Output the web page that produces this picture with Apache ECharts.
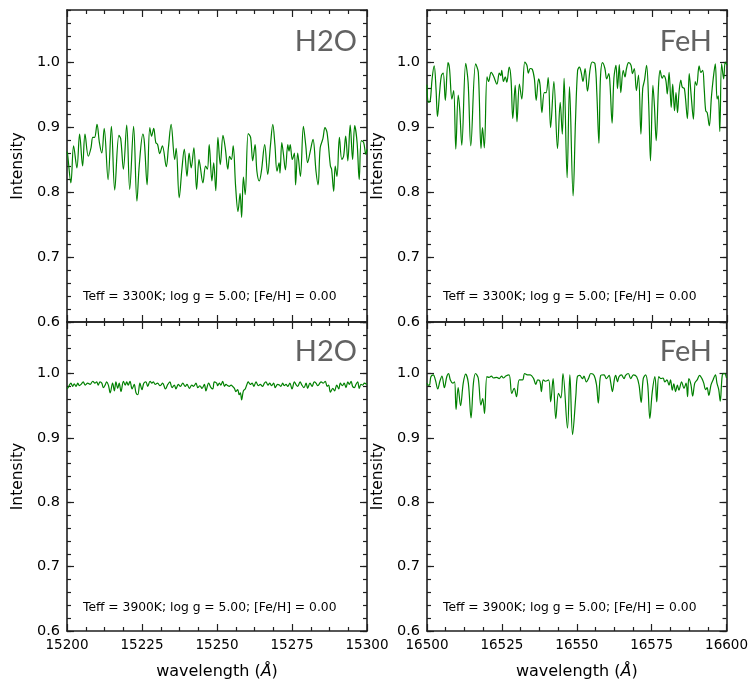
<!DOCTYPE html>
<html><head><meta charset="utf-8">
<script src="https://cdn.jsdelivr.net/npm/echarts@6/dist/echarts.min.js"></script>
<style>html,body{margin:0;padding:0;background:#fff}#c{width:751px;height:681px}</style>
</head><body><div id="c"></div><script>
// ---------------- data ----------------
const h2oRange = [15200, 15300];
const fehRange = [16500, 16600];
const yRange = [0.6, 1.08];
const panelTitles = ['H2O', 'FeH', 'H2O', 'FeH'];
const paramLabels = [
  'Teff = 3300K; log g = 5.00; [Fe/H] = 0.00',
  'Teff = 3300K; log g = 5.00; [Fe/H] = 0.00',
  'Teff = 3900K; log g = 5.00; [Fe/H] = 0.00',
  'Teff = 3900K; log g = 5.00; [Fe/H] = 0.00'
];
const xAxisName = 'wavelength ({i|Å})';
const yAxisName = 'Intensity';

const h2o3300 = [[15200.0,0.862],[15200.2,0.858],[15201.3,0.814],[15202.2,0.871],[15203.3,0.837],[15204.2,0.889],[15205.2,0.840],[15206.0,0.889],[15207.1,0.855],[15208.0,0.868],[15208.6,0.884],[15209.2,0.884],[15210.0,0.904],[15210.8,0.876],[15211.6,0.860],[15212.4,0.898],[15213.7,0.819],[15214.8,0.901],[15215.9,0.803],[15217.3,0.887],[15217.9,0.882],[15218.8,0.835],[15219.9,0.903],[15220.9,0.804],[15222.2,0.901],[15223.3,0.786],[15224.1,0.842],[15225.3,0.889],[15225.8,0.876],[15226.7,0.811],[15227.6,0.899],[15228.2,0.886],[15228.9,0.898],[15229.6,0.876],[15230.2,0.873],[15230.9,0.859],[15231.8,0.871],[15233.1,0.839],[15233.8,0.868],[15234.7,0.904],[15235.9,0.850],[15236.4,0.867],[15237.4,0.791],[15238.3,0.835],[15239.1,0.866],[15240.0,0.824],[15240.7,0.860],[15241.4,0.837],[15242.3,0.868],[15243.2,0.804],[15244.0,0.850],[15244.4,0.840],[15245.3,0.814],[15246.2,0.840],[15246.8,0.835],[15247.4,0.873],[15248.3,0.817],[15248.9,0.845],[15249.6,0.802],[15250.3,0.884],[15251.1,0.842],[15252.0,0.887],[15252.8,0.866],[15253.6,0.835],[15254.2,0.855],[15254.8,0.850],[15255.4,0.871],[15256.2,0.809],[15257.0,0.770],[15257.7,0.798],[15258.2,0.761],[15258.8,0.823],[15259.4,0.796],[15260.4,0.890],[15261.2,0.884],[15261.9,0.848],[15262.7,0.873],[15263.3,0.832],[15264.1,0.817],[15264.8,0.832],[15265.9,0.873],[15266.9,0.827],[15267.8,0.871],[15268.6,0.904],[15269.3,0.873],[15270.0,0.832],[15270.7,0.845],[15271.0,0.829],[15271.6,0.876],[15272.1,0.860],[15272.8,0.834],[15273.6,0.873],[15274.0,0.863],[15274.4,0.873],[15275.1,0.850],[15275.8,0.860],[15276.2,0.811],[15276.9,0.860],[15277.8,0.824],[15278.8,0.901],[15279.6,0.871],[15280.2,0.845],[15281.1,0.863],[15282.0,0.881],[15283.0,0.832],[15283.7,0.811],[15284.4,0.868],[15285.3,0.882],[15286.0,0.899],[15286.7,0.891],[15287.8,0.840],[15288.2,0.835],[15288.9,0.801],[15289.4,0.840],[15290.0,0.824],[15290.8,0.884],[15291.6,0.850],[15292.2,0.855],[15292.9,0.886],[15293.6,0.848],[15294.4,0.903],[15295.2,0.850],[15295.9,0.902],[15296.7,0.876],[15297.4,0.819],[15298.1,0.879],[15298.9,0.876],[15299.6,0.858],[15300.0,0.866]];

const feh3300 = [[16500.0,0.965],[16500.2,0.943],[16500.6,0.938],[16501.1,0.941],[16501.7,0.974],[16502.4,0.994],[16503.0,0.959],[16503.5,0.916],[16504.2,0.953],[16504.8,0.979],[16505.4,0.983],[16506.1,0.941],[16507.0,0.999],[16507.5,0.990],[16508.3,0.943],[16508.9,0.956],[16509.6,0.866],[16510.4,0.949],[16510.9,0.928],[16511.6,0.872],[16512.9,0.998],[16513.7,0.969],[16514.6,0.871],[16516.2,0.997],[16517.1,0.984],[16518.0,0.867],[16518.5,0.899],[16519.1,0.868],[16520.0,0.977],[16520.5,0.970],[16521.4,0.984],[16522.2,0.978],[16523.3,0.966],[16524.1,0.983],[16524.6,0.979],[16524.9,0.987],[16525.5,0.970],[16526.1,0.977],[16526.6,0.969],[16527.4,0.992],[16528.0,0.974],[16528.6,0.913],[16529.4,0.964],[16530.0,0.908],[16530.8,0.966],[16531.6,0.943],[16532.6,1.000],[16533.3,0.995],[16533.8,0.983],[16534.4,0.990],[16535.1,0.989],[16535.8,0.974],[16536.4,0.941],[16537.2,0.974],[16537.7,0.964],[16538.3,0.922],[16539.1,0.953],[16539.7,0.953],[16540.4,0.976],[16541.2,0.899],[16542.3,0.970],[16543.5,0.867],[16544.4,0.938],[16545.1,0.889],[16545.7,0.975],[16546.7,0.822],[16547.5,0.962],[16548.7,0.794],[16549.5,0.910],[16550.2,0.987],[16550.8,0.992],[16551.4,0.984],[16552.0,0.970],[16552.7,0.990],[16553.5,0.955],[16554.4,0.990],[16555.1,1.000],[16556.0,0.997],[16556.6,0.953],[16557.3,0.875],[16557.8,0.974],[16558.5,0.999],[16559.3,0.990],[16559.9,0.974],[16560.6,0.982],[16561.0,0.966],[16561.7,0.906],[16562.3,0.975],[16563.0,0.995],[16563.5,0.959],[16564.1,0.996],[16564.6,0.953],[16565.4,0.987],[16566.0,0.977],[16566.5,0.990],[16567.2,0.999],[16568.0,0.995],[16568.5,0.982],[16569.1,0.990],[16569.8,0.956],[16570.5,0.980],[16571.3,0.889],[16571.9,0.959],[16572.5,0.972],[16573.2,0.995],[16573.9,0.935],[16574.5,0.848],[16575.3,0.964],[16575.8,0.933],[16576.4,0.879],[16577.2,0.966],[16577.7,0.987],[16578.4,0.975],[16578.9,0.979],[16579.6,0.972],[16580.1,0.951],[16580.7,0.984],[16581.4,0.930],[16581.9,0.966],[16582.5,0.925],[16583.0,0.953],[16583.5,0.922],[16584.0,0.953],[16584.6,0.972],[16585.1,0.961],[16585.8,0.959],[16586.8,0.913],[16587.4,0.982],[16588.1,0.946],[16588.8,0.912],[16589.4,0.970],[16589.9,0.964],[16590.7,0.994],[16591.3,0.984],[16591.9,0.987],[16592.4,0.959],[16592.9,0.925],[16593.4,0.922],[16594.1,0.902],[16594.8,0.946],[16595.4,0.974],[16596.1,0.997],[16596.7,0.943],[16597.1,0.948],[16597.6,0.893],[16598.2,0.997],[16598.9,0.974],[16599.4,1.000],[16600.0,0.995]];

const h2o3900 = [[15200.0,0.978],[15200.2,0.977],[15200.8,0.982],[15201.3,0.985],[15201.9,0.980],[15202.4,0.984],[15203.0,0.980],[15203.6,0.985],[15204.1,0.981],[15204.7,0.983],[15205.4,0.987],[15206.1,0.982],[15206.9,0.985],[15207.7,0.983],[15208.6,0.988],[15209.3,0.985],[15209.9,0.987],[15210.4,0.982],[15211.0,0.987],[15211.6,0.985],[15212.1,0.978],[15212.8,0.983],[15213.2,0.987],[15213.8,0.982],[15214.4,0.970],[15215.2,0.985],[15215.8,0.973],[15216.3,0.987],[15216.9,0.977],[15217.4,0.985],[15218.0,0.972],[15218.8,0.988],[15219.4,0.982],[15219.9,0.987],[15220.4,0.982],[15221.0,0.988],[15221.7,0.976],[15222.4,0.983],[15223.0,0.970],[15223.6,0.967],[15224.3,0.985],[15225.0,0.975],[15225.6,0.985],[15226.3,0.987],[15226.9,0.980],[15227.7,0.988],[15228.3,0.985],[15228.8,0.987],[15229.4,0.983],[15230.2,0.985],[15231.0,0.981],[15231.9,0.985],[15232.8,0.976],[15233.6,0.983],[15234.3,0.987],[15235.0,0.978],[15235.8,0.982],[15236.3,0.976],[15237.1,0.983],[15237.8,0.980],[15238.6,0.985],[15239.4,0.980],[15240.0,0.983],[15240.8,0.977],[15241.6,0.982],[15242.2,0.980],[15243.0,0.985],[15243.6,0.978],[15244.3,0.981],[15245.0,0.977],[15245.8,0.983],[15246.3,0.973],[15247.2,0.985],[15248.0,0.978],[15248.6,0.976],[15249.1,0.987],[15249.9,0.985],[15250.2,0.981],[15250.8,0.985],[15251.3,0.982],[15251.9,0.988],[15252.5,0.980],[15253.0,0.983],[15253.6,0.981],[15254.1,0.980],[15254.7,0.982],[15255.2,0.980],[15255.8,0.977],[15256.3,0.972],[15256.9,0.975],[15257.4,0.967],[15257.8,0.970],[15258.2,0.959],[15258.8,0.973],[15259.4,0.976],[15259.9,0.982],[15260.4,0.987],[15261.1,0.983],[15261.7,0.985],[15262.3,0.980],[15263.0,0.987],[15263.8,0.981],[15264.4,0.983],[15265.2,0.980],[15265.8,0.985],[15266.3,0.987],[15267.0,0.982],[15267.6,0.985],[15268.2,0.981],[15268.9,0.985],[15269.4,0.978],[15270.2,0.983],[15270.8,0.982],[15271.3,0.980],[15271.9,0.985],[15272.4,0.981],[15273.0,0.983],[15273.6,0.980],[15274.3,0.985],[15275.0,0.976],[15275.8,0.987],[15276.3,0.983],[15276.9,0.980],[15277.7,0.987],[15278.3,0.982],[15279.0,0.978],[15279.7,0.985],[15280.2,0.977],[15281.0,0.985],[15281.7,0.980],[15282.4,0.987],[15283.0,0.985],[15283.6,0.981],[15284.7,0.987],[15285.4,0.985],[15286.1,0.988],[15286.7,0.980],[15287.2,0.982],[15287.8,0.971],[15288.6,0.977],[15289.2,0.973],[15289.9,0.982],[15290.6,0.976],[15291.1,0.985],[15291.8,0.981],[15292.4,0.985],[15293.0,0.978],[15293.6,0.987],[15294.1,0.983],[15294.7,0.988],[15295.2,0.980],[15295.8,0.978],[15296.3,0.983],[15296.9,0.987],[15297.4,0.977],[15298.0,0.983],[15298.6,0.982],[15299.1,0.985],[15299.9,0.983]];

const feh3900 = [[16500.0,0.985],[16500.3,0.982],[16500.8,0.982],[16501.3,0.995],[16502.1,0.998],[16502.8,0.990],[16503.6,0.976],[16504.3,0.988],[16505.0,0.996],[16505.8,0.978],[16506.6,0.995],[16507.2,1.000],[16507.8,0.990],[16508.6,0.985],[16509.2,0.987],[16509.7,0.944],[16510.4,0.978],[16511.2,0.950],[16512.1,0.985],[16512.9,0.999],[16513.8,0.985],[16514.7,0.931],[16515.5,0.985],[16516.2,1.000],[16517.1,0.993],[16518.0,0.951],[16518.6,0.961],[16519.2,0.938],[16520.0,0.995],[16520.7,0.994],[16521.5,0.996],[16522.2,0.993],[16523.3,0.994],[16524.1,0.992],[16524.9,0.996],[16525.5,0.993],[16526.3,0.996],[16527.4,0.998],[16528.3,0.969],[16529.1,0.977],[16529.9,0.964],[16530.8,0.990],[16531.9,0.990],[16532.6,1.000],[16533.5,0.998],[16534.5,0.998],[16535.6,0.992],[16536.3,0.983],[16537.0,0.990],[16537.7,0.988],[16538.2,0.972],[16538.8,0.990],[16539.5,0.988],[16540.6,0.990],[16541.3,0.956],[16542.1,0.992],[16543.0,0.930],[16543.9,0.969],[16544.7,0.962],[16545.4,1.000],[16546.9,0.915],[16547.7,0.998],[16548.6,0.905],[16549.7,0.966],[16550.2,0.995],[16551.0,0.997],[16551.9,0.992],[16552.4,0.996],[16553.2,0.987],[16553.9,0.992],[16554.7,1.000],[16555.8,0.997],[16556.6,0.982],[16557.2,0.954],[16558.0,0.997],[16559.1,0.998],[16559.9,0.992],[16560.8,0.997],[16561.3,0.987],[16561.9,0.972],[16562.6,0.992],[16563.0,0.997],[16563.6,0.987],[16564.1,0.995],[16564.9,0.998],[16565.8,0.992],[16566.3,0.997],[16567.2,1.000],[16568.0,0.992],[16568.9,0.998],[16570.0,0.995],[16570.8,0.982],[16571.5,0.955],[16572.2,0.992],[16573.0,0.998],[16573.7,0.982],[16574.4,0.930],[16575.2,0.971],[16576.1,0.995],[16576.7,0.956],[16577.4,0.995],[16578.1,0.992],[16578.8,0.993],[16579.4,0.987],[16580.1,0.990],[16580.8,0.982],[16581.3,0.990],[16581.9,0.974],[16582.4,0.984],[16583.0,0.972],[16583.6,0.982],[16584.1,0.974],[16585.0,0.987],[16585.8,0.977],[16586.5,0.985],[16587.0,0.964],[16587.4,0.992],[16588.1,0.983],[16588.7,0.965],[16589.4,0.985],[16590.2,0.990],[16591.0,0.997],[16591.8,0.992],[16592.4,0.985],[16593.0,0.975],[16593.5,0.978],[16594.1,0.966],[16594.8,0.982],[16595.5,0.990],[16596.3,0.998],[16596.8,0.985],[16597.4,0.975],[16597.9,0.957],[16598.6,0.998],[16599.3,1.000],[16600.0,0.993]];

// ---------------- layout / style ----------------
const FONT = '"DejaVu Sans", sans-serif';
const TFONT = 'Lato, "DejaVu Sans", sans-serif';
const AX = '#1f1f1f';
const LINE = '#008000';
const grids = [
  {left: 67, top: 10, width: 300, height: 312},
  {left: 427, top: 10, width: 300, height: 312},
  {left: 67, top: 322, width: 300, height: 310},
  {left: 427, top: 322, width: 300, height: 310}
];
const ranges = [h2oRange, fehRange, h2oRange, fehRange];
const seriesData = [h2o3300, feh3300, h2o3900, feh3900];
const showX = [false, false, true, true];

const xAxes = [], yAxes = [], series = [];
function axisLine() { return {show: true, onZero: false, lineStyle: {color: AX, width: 1.6}}; }
function tick(len) { return {show: true, inside: true, length: len, lineStyle: {color: AX, width: 1.2}}; }

grids.forEach((g, i) => {
  const r = ranges[i];
  const xBase = {
    type: 'value', gridIndex: i, min: r[0], max: r[1], interval: 25,
    axisLine: axisLine(), axisTick: tick(7),
    minorTick: {show: true, splitNumber: 4, length: 4, lineStyle: {color: AX, width: 1.2}},
    splitLine: {show: false}, minorSplitLine: {show: false}
  };
  xAxes.push(Object.assign({}, xBase, {
    position: 'bottom',
    axisLabel: {show: showX[i], margin: 7, fontSize: 13.5, color: '#000', fontFamily: FONT,
      formatter: v => String(Math.round(v))},
    name: showX[i] ? xAxisName : '', nameLocation: 'middle', nameGap: 33,
    nameTextStyle: {fontSize: 16, color: '#000', fontFamily: FONT,
      rich: {i: {fontStyle: 'italic', fontSize: 16, color: '#000', fontFamily: FONT}}}
  }));
  xAxes.push(Object.assign({}, xBase, {position: 'top', axisLabel: {show: false}}));

  const yMain = {
    type: 'value', gridIndex: i, min: yRange[0], max: yRange[1], interval: 0.1,
    axisLine: axisLine(), axisTick: tick(7), splitLine: {show: false}
  };
  const yMinor = {
    type: 'value', gridIndex: i, min: yRange[0], max: yRange[1], interval: 0.02,
    axisLine: {show: false, onZero: false}, axisTick: tick(4), axisLabel: {show: false}, splitLine: {show: false}
  };
  yAxes.push(Object.assign({}, yMain, {
    position: 'left',
    axisLabel: {show: true, margin: 7, fontSize: 14.5, color: '#000', fontFamily: FONT, showMaxLabel: false,
      formatter: v => v.toFixed(1)},
    name: yAxisName, nameLocation: 'middle', nameGap: 41,
    nameTextStyle: {fontSize: 15.5, color: '#000', fontFamily: FONT}
  }));
  yAxes.push(Object.assign({}, yMinor, {position: 'left'}));
  yAxes.push(Object.assign({}, yMain, {position: 'right', axisLabel: {show: false}}));
  yAxes.push(Object.assign({}, yMinor, {position: 'right'}));

  series.push({
    type: 'line', xAxisIndex: i * 2, yAxisIndex: i * 4, data: seriesData[i],
    showSymbol: false, smooth: 0.35, lineStyle: {color: LINE, width: 1.2}, silent: true, animation: false
  });
});

const graphic = [];
const titlePos = [[357, 42], [712, 42], [357, 352], [712, 352]];
const paramPos = [[83, 297], [443, 297], [83, 608], [443, 608]];
grids.forEach((g, i) => {
  graphic.push({type: 'text', x: titlePos[i][0], y: titlePos[i][1], silent: true,
    style: {text: panelTitles[i], fill: '#626262', fontSize: 29, fontFamily: TFONT, align: 'right', verticalAlign: 'middle'}});
  graphic.push({type: 'text', x: paramPos[i][0], y: paramPos[i][1], silent: true,
    style: {text: paramLabels[i], fill: '#000', fontSize: 12.3, fontFamily: FONT, align: 'left', verticalAlign: 'middle'}});
});

const chart = echarts.init(document.getElementById('c'), null, {renderer: 'canvas'});
chart.setOption({
  animation: false,
  backgroundColor: '#fff',
  grid: grids.map(g => Object.assign({containLabel: false}, g)),
  xAxis: xAxes, yAxis: yAxes, series: series, graphic: graphic
});
</script></body></html>
